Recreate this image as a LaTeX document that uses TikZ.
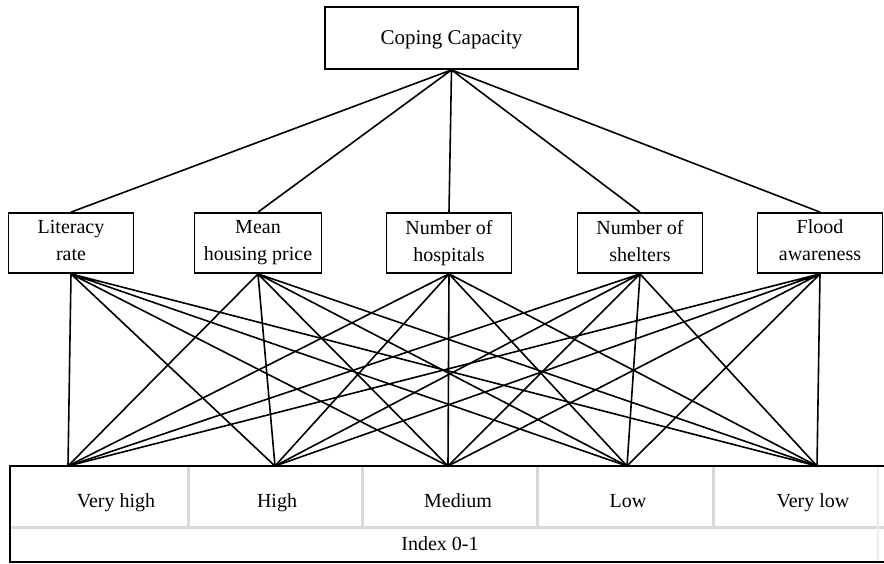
\documentclass[tikz,border=0pt]{standalone}
\usepackage{fontspec}
\setmainfont{Liberation Serif}

\begin{document}
\begin{tikzpicture}[x=0.5pt, y=-0.5pt]
    \useasboundingbox (0,0) rectangle (884,563);

    % Boxes
    \node[draw, line width=0.9pt, minimum width=126.5pt, minimum height=31pt, text depth=0pt, font=\fontsize{10.5}{13.5}\selectfont] (cc) at (451.5,38) {Coping Capacity};
    \node[draw, line width=0.9pt, minimum width=62.5pt, minimum height=30pt, align=center, text depth=2.5pt, font=\fontsize{10}{13.5}\selectfont] (lit) at (71,243) {Literacy\\rate};
    \node[draw, line width=0.9pt, minimum width=63.5pt, minimum height=30pt, align=center, text depth=2.5pt, font=\fontsize{10}{13.5}\selectfont] (mhp) at (258,243) {Mean\\housing price};
    \node[draw, line width=0.9pt, minimum width=62.5pt, minimum height=30pt, align=center, text depth=2.5pt, font=\fontsize{10}{13.5}\selectfont] (noh) at (449,243) {Number of\\hospitals};
    \node[draw, line width=0.9pt, minimum width=62.5pt, minimum height=30pt, align=center, text depth=2.5pt, font=\fontsize{10}{13.5}\selectfont] (nos) at (640,243) {Number of\\shelters};
    \node[draw, line width=0.9pt, minimum width=62.5pt, minimum height=30pt, align=center, text depth=2.5pt, font=\fontsize{10}{13.5}\selectfont] (fla) at (820,243) {Flood\\awareness};

    % Scale table
    \draw[gray!30, line width=1.5pt] (10,527) -- (886,527);
    \draw[gray!30, line width=1.5pt] (188,466) -- (188,527) (362,466) -- (362,527) (537,466) -- (537,527) (713,466) -- (713,527);
    \draw[gray!15, line width=1pt] (878,466) -- (878,562);
    \draw[line width=0.9pt] (886,466) -- (10,466) -- (10,562) -- (886,562);

    \node[anchor=base, font=\fontsize{10}{12}\selectfont] (lvh) at (116,507) {Very high};
    \node[anchor=base, font=\fontsize{10}{12}\selectfont] (lhi) at (277,507) {High};
    \node[anchor=base, font=\fontsize{10}{12}\selectfont] (lme) at (458,507) {Medium};
    \node[anchor=base, font=\fontsize{10}{12}\selectfont] (llo) at (628,507) {Low};
    \node[anchor=base, font=\fontsize{10}{12}\selectfont] (lvl) at (813,507) {Very low};
    \node[anchor=base, font=\fontsize{10}{12}\selectfont] (idx) at (440,550) {Index 0-1};

    % Levels
    \coordinate (vh) at (68,466);
    \coordinate (hi) at (275,466);
    \coordinate (me) at (448,466);
    \coordinate (lo) at (627,466);
    \coordinate (vl) at (817,466);

    % Edges
    \draw[line width=0.8pt] (cc.south) -- (lit.north) (cc.south) -- (mhp.north) (cc.south) -- (noh.north) (cc.south) -- (nos.north) (cc.south) -- (fla.north);
    \draw[line width=0.8pt] (lit.south) -- (vh) (lit.south) -- (hi) (lit.south) -- (me) (lit.south) -- (lo) (lit.south) -- (vl);
    \draw[line width=0.8pt] (mhp.south) -- (vh) (mhp.south) -- (hi) (mhp.south) -- (me) (mhp.south) -- (lo) (mhp.south) -- (vl);
    \draw[line width=0.8pt] (noh.south) -- (vh) (noh.south) -- (hi) (noh.south) -- (me) (noh.south) -- (lo) (noh.south) -- (vl);
    \draw[line width=0.8pt] (nos.south) -- (vh) (nos.south) -- (hi) (nos.south) -- (me) (nos.south) -- (lo) (nos.south) -- (vl);
    \draw[line width=0.8pt] (fla.south) -- (vh) (fla.south) -- (hi) (fla.south) -- (me) (fla.south) -- (lo) (fla.south) -- (vl);
\end{tikzpicture}
\end{document}
